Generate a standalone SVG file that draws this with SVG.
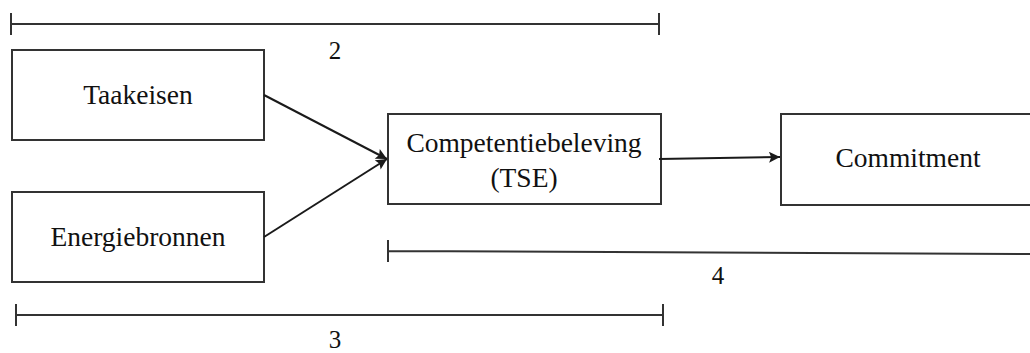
<svg xmlns="http://www.w3.org/2000/svg" width="1030" height="353" viewBox="0 0 1030 353">
  <style>
    .box { fill: #ffffff; stroke: #333333; stroke-width: 2; }
    .lbl { font-family: 'Liberation Serif', Tinos, 'DejaVu Serif', serif; font-size: 27.5px; fill: #111111; text-anchor: middle; }
    .num { font-family: 'Liberation Serif', Tinos, 'DejaVu Serif', serif; font-size: 25px; fill: #111111; text-anchor: middle; }
    .edge { fill: none; stroke: #1a1a1a; stroke-width: 2; }
    .brk { fill: none; stroke: #333333; stroke-width: 2; }
  </style>
  <defs>
    <marker id="arr" viewBox="0 0 10 10" refX="10" refY="5" markerWidth="12" markerHeight="11" markerUnits="userSpaceOnUse" orient="auto">
      <path d="M0,0 L10,5 L0,10 L2,5 Z" fill="#1a1a1a"/>
    </marker>
  </defs>
  <rect width="1030" height="353" fill="#ffffff"/>

  <g id="brackets">
    <g id="bracket-2">
      <path class="brk" d="M11,24 L659,24 M11,13 L11,35 M659,13 L659,35"/>
      <text class="num" x="335" y="59">2</text>
    </g>
    <g id="bracket-3">
      <path class="brk" d="M16,315 L663,315 M16,304 L16,326 M663,304 L663,326"/>
      <text class="num" x="335" y="348">3</text>
    </g>
    <g id="bracket-4">
      <path class="brk" d="M388,251 L1030,254 M388,240 L388,262"/>
      <text class="num" x="718" y="284">4</text>
    </g>
  </g>

  <g id="node-taakeisen">
    <rect class="box" x="12" y="50" width="252" height="90"/>
    <text class="lbl" x="138" y="104">Taakeisen</text>
  </g>
  <g id="node-energiebronnen">
    <rect class="box" x="12" y="192" width="252" height="90"/>
    <text class="lbl" x="138" y="246">Energiebronnen</text>
  </g>
  <g id="node-competentie">
    <rect class="box" x="388" y="114" width="273" height="90"/>
    <text class="lbl" x="524" y="152">Competentiebeleving</text>
    <text class="lbl" x="524" y="187">(TSE)</text>
  </g>
  <g id="node-commitment">
    <rect class="box" x="781" y="114" width="260" height="91"/>
    <text class="lbl" x="908" y="167">Commitment</text>
  </g>

  <g id="connectors">
    <path class="edge" d="M264,95 L387,159" marker-end="url(#arr)"/>
    <path class="edge" d="M264,237 L387,159" marker-end="url(#arr)"/>
    <path class="edge" d="M659,159 L780,157" marker-end="url(#arr)"/>
  </g>
</svg>
